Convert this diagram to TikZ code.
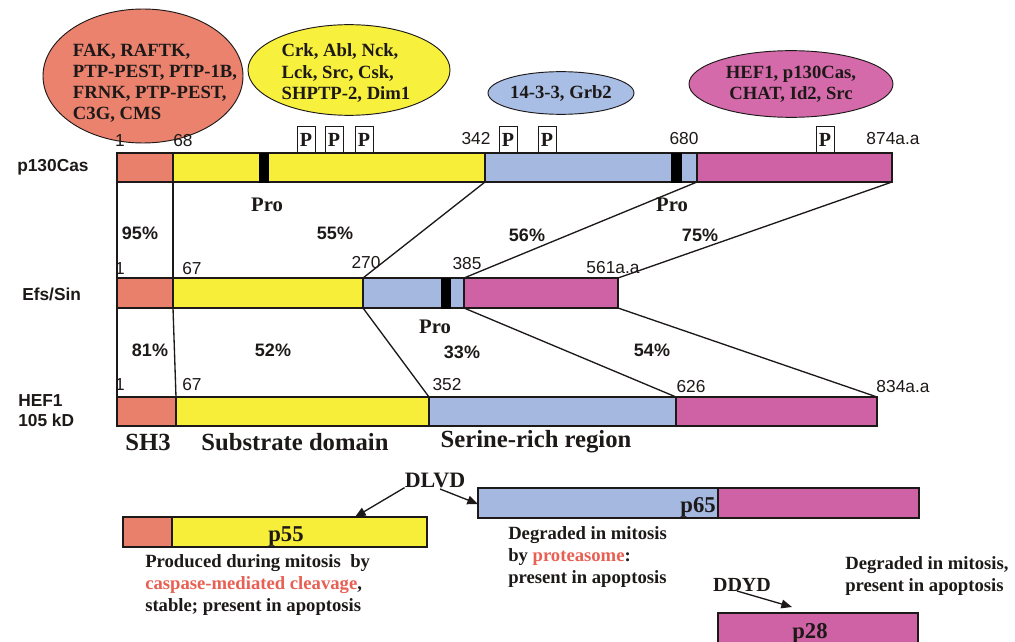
\documentclass[tikz,border=0pt]{standalone}
\usepackage{fontspec}
\setmainfont{Liberation Serif}
\newfontfamily\arialf{Liberation Sans}
\usetikzlibrary{shapes.geometric,arrows.meta}
\definecolor{segO}{RGB}{232,128,108}
\definecolor{segY}{RGB}{246,238,56}
\definecolor{segB}{RGB}{164,184,224}
\definecolor{segP}{RGB}{206,98,164}
\definecolor{ellO}{RGB}{234,130,110}
\definecolor{ellY}{RGB}{247,240,60}
\definecolor{ellB}{RGB}{168,190,228}
\definecolor{ellP}{RGB}{212,106,170}
\definecolor{redt}{RGB}{232,96,84}
\definecolor{ink}{RGB}{30,25,25}
\begin{document}
\begin{tikzpicture}[x=0.75pt,y=-0.75pt,
  seg/.style={draw=ink,line width=0.8pt},
  promark/.style={fill=black,draw=black,line width=0.4pt},
  num/.style={font=\arialf\fontsize{13}{13}\selectfont,inner sep=0,text=ink},
  pct/.style={font=\arialf\bfseries\fontsize{13.5}{14}\selectfont,inner sep=0,text=ink},
  rowlab/.style={font=\arialf\bfseries\fontsize{13}{15}\selectfont,inner sep=0,align=left,anchor=west,text=ink},
  prolab/.style={font=\bfseries\fontsize{15.5}{16}\selectfont,inner sep=0,text=ink},
  domlab/.style={font=\bfseries\fontsize{18.5}{19}\selectfont,inner sep=0,text=ink},
  bubble/.style={ellipse,draw=ink,line width=0.7pt,inner sep=0},
  elltxt/.style={font=\bfseries\fontsize{14}{15.8}\selectfont,text=ink,align=left,inner sep=0},
  pbox/.style={draw=ink,fill=white,line width=0.6pt,minimum width=13.5pt,minimum height=19.5pt,inner sep=0,anchor=south,font=\bfseries\fontsize{15}{15}\selectfont,text=ink},
  desc/.style={font=\bfseries\fontsize{14}{16.5}\selectfont,align=left,anchor=west,inner sep=0,text=ink},
  frag/.style={font=\bfseries\fontsize{17}{17}\selectfont,inner sep=0,text=ink},
  link/.style={draw=ink,line width=1pt},
  arr/.style={-{Triangle[length=8pt,width=6.5pt]},line width=1pt,draw=ink}]
\useasboundingbox (0,0) rectangle (1015,642);
\fill[white] (0,0) rectangle (1015,642);

% ---------- bubbles ----------
\node[bubble,fill=ellO,minimum width=150pt,minimum height=100.5pt] (bO) at (143,76) {};
\node[elltxt] (tO) at (155,83) {FAK, RAFTK,\\PTP-PEST, PTP-1B,\\FRNK, PTP-PEST,\\C3G, CMS};
\node[bubble,fill=ellY,minimum width=151.5pt,minimum height=68pt] (bY) at (349,70) {};
\node[elltxt] (tY) at (346,73) {Crk, Abl, Nck,\\Lck, Src, Csk,\\SHPTP-2, Dim1};
\node[bubble,fill=ellB,minimum width=109.5pt,minimum height=32pt,elltxt] (bB) at (561,93) {14-3-3, Grb2};
\node[bubble,fill=ellP,minimum width=153pt,minimum height=50pt,elltxt,align=center] (bP) at (791,84) {HEF1, p130Cas,\\CHAT, Id2, Src};

% ---------- p130Cas ----------
\node[rowlab] (l1) at (17,167) {p130Cas};
\draw[seg,fill=segO] (117,153) rectangle (173,182);
\draw[seg,fill=segY] (173,153) rectangle (485,182);
\draw[seg,fill=segB] (485,153) rectangle (697,182);
\draw[seg,fill=segP] (697,153) rectangle (892,182);
\draw[promark] (259,153) rectangle (268,182);
\draw[promark] (671,153) rectangle (681,182);
\foreach \px/\nm in {306/pa,334/pb,364/pc,508/pd,547/pe,825/pf}
  \node[pbox] (\nm) at (\px,153) {P};
\node[num] (n11) at (120,141) {1};
\node[num] (n12) at (183,141) {68};
\node[num] (n13) at (476,139) {342};
\node[num] (n14) at (684,139) {680};
\node[num] (n15) at (893,139) {874a.a};
\node[prolab] (pr1) at (267,205) {Pro};
\node[prolab] (pr2) at (672,205) {Pro};

% ---------- Efs/Sin ----------
\node[rowlab] (l2) at (22,294) {Efs/Sin};
\draw[seg,fill=segO] (117,278) rectangle (173,308);
\draw[seg,fill=segY] (173,278) rectangle (363,308);
\draw[seg,fill=segB] (363,278) rectangle (464,308);
\draw[seg,fill=segP] (464,278) rectangle (618,308);
\draw[promark] (441,278) rectangle (450,308);
\node[num] (n21) at (120,269) {1};
\node[num] (n22) at (192,269) {67};
\node[num] (n23) at (366,263) {270};
\node[num] (n24) at (467,264) {385};
\node[num] (n25) at (613,268) {561a.a};
\node[prolab] (pr3) at (435,327) {Pro};

% ---------- HEF1 ----------
\node[rowlab] (l3) at (18,411) {HEF1\\105 kD};
\draw[seg,fill=segO] (117,397) rectangle (176,426);
\draw[seg,fill=segY] (176,397) rectangle (429,426);
\draw[seg,fill=segB] (429,397) rectangle (676,426);
\draw[seg,fill=segP] (676,397) rectangle (877,426);
\node[num] (n31) at (120,385) {1};
\node[num] (n32) at (192,385) {67};
\node[num] (n33) at (447,385) {352};
\node[num] (n34) at (691,387) {626};
\node[num] (n35) at (903,387) {834a.a};

% ---------- link coordinates ----------
\coordinate (a0) at (117,182); \coordinate (a1) at (173,182);
\coordinate (a2) at (485,182); \coordinate (a3) at (697,182); \coordinate (a4) at (892,182);
\coordinate (b0) at (117,278); \coordinate (b1) at (173,278);
\coordinate (b2) at (363,278); \coordinate (b3) at (464,278); \coordinate (b4) at (618,278);
\coordinate (d0) at (117,308); \coordinate (d1) at (173,308);
\coordinate (d2) at (363,308); \coordinate (d3) at (464,308); \coordinate (d4) at (618,308);
\coordinate (c0) at (117,397); \coordinate (c1) at (176,397);
\coordinate (c2) at (429,397); \coordinate (c3) at (676,397); \coordinate (c4) at (877,397);
\draw[link] (a0) -- (b0);
\draw[link] (a1) -- (b1);
\draw[link] (a2) -- (b2);
\draw[link] (a3) -- (b3);
\draw[link] (a4) -- (b4);
\draw[link] (d0) -- (c0);
\draw[link] (d1) -- (c1);
\draw[link] (d2) -- (c2);
\draw[link] (d3) -- (c3);
\draw[link] (d4) -- (c4);

% ---------- percentages ----------
\node[pct] (q1) at (140,233) {95\%};
\node[pct] (q2) at (335,233) {55\%};
\node[pct] (q3) at (527,235) {56\%};
\node[pct] (q4) at (700,235) {75\%};
\node[pct] (q5) at (150,350) {81\%};
\node[pct] (q6) at (273,350) {52\%};
\node[pct] (q7) at (462,352) {33\%};
\node[pct] (q8) at (652,350) {54\%};

% ---------- domain labels ----------
\node[domlab] (dm1) at (148,442) {SH3};
\node[domlab] (dm2) at (295,442) {Substrate domain};
\node[domlab] (dm3) at (536,442) {Serine-rich region};

% ---------- fragments ----------
\draw[seg,fill=segO] (123,517) rectangle (172,547);
\draw[seg,fill=segY] (172,517) rectangle (427,547);
\node[frag] (f55) at (286,536) {p55};
\coordinate (p55hit) at (355,517);

\draw[seg,fill=segB] (478,488) rectangle (718,518);
\draw[seg,fill=segP] (718,488) rectangle (919,518);
\node[frag,anchor=east] (f65) at (716,507) {p65};
\coordinate (p65hit) at (478,504);

\draw[seg,fill=segP] (718,613) rectangle (918,645);
\node[frag] (f28) at (810,633) {p28};

\node[frag,font=\bfseries\fontsize{16.5}{17}\selectfont] (dlvd) at (435,480) {DLVD};
\coordinate (dl2) at (440,489);
\draw[arr] (dlvd.south west) -- (p55hit);
\draw[arr] (dl2) -- (p65hit);

\node[frag,font=\bfseries\fontsize{15}{16}\selectfont] (ddyd) at (742,585) {DDYD};
\coordinate (dd1) at (737,591);
\coordinate (p28hit) at (792,607);
\draw[arr] (dd1) -- (p28hit);

% ---------- descriptions ----------
\node[desc] (ds1) at (145,585) {Produced during mitosis\ \ by\\{\color{redt}caspase-mediated cleavage},\\stable; present in apoptosis};
\node[desc] (ds2) at (508,557) {Degraded in mitosis\\by {\color{redt}proteasome}:\\present in apoptosis};
\node[desc] (ds3) at (845,576) {Degraded in mitosis,\\present in apoptosis};
\end{tikzpicture}
\end{document}
